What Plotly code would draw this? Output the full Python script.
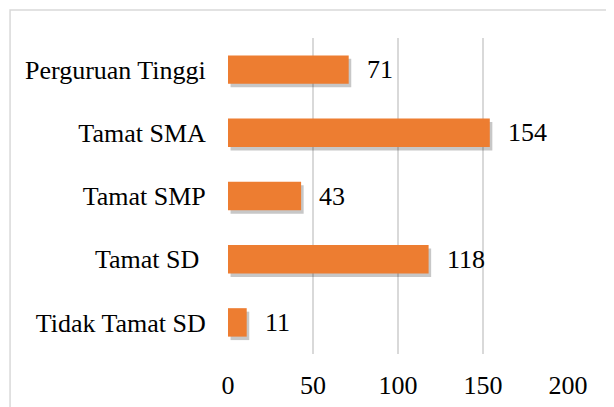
import plotly.graph_objects as go

categories = ["Tidak Tamat SD", "Tamat SD ", "Tamat SMP", "Tamat SMA", "Perguruan Tinggi"]
values = [11, 118, 43, 154, 71]
tick_vals = [0, 50, 100, 150, 200]

FONT = "Liberation Serif"
FS = 26
BAR_W = 0.45

fig = go.Figure()
# soft drop shadow
fig.add_trace(go.Bar(
    y=categories, x=values, base=1.5, orientation="h",
    width=BAR_W, offset=-BAR_W / 2 - 0.055,
    marker=dict(color="rgba(0,0,0,0.22)", line=dict(width=0)),
    hoverinfo="skip", showlegend=False,
))
fig.add_trace(go.Bar(
    y=categories, x=values, orientation="h",
    width=BAR_W, offset=-BAR_W / 2,
    marker=dict(color="#ED7D31", line=dict(width=0)),
    showlegend=False,
))

for c, v in zip(categories, values):
    fig.add_annotation(x=v, y=c, text=str(v), showarrow=False,
                       xanchor="left", xshift=16,
                       font=dict(family=FONT, size=FS, color="#000000"))

# chart border
fig.add_shape(type="rect", xref="paper", yref="paper",
              x0=-0.641, x1=1.3, y0=-0.3, y1=1.0886,
              line=dict(color="#D9D9D9", width=1.5), fillcolor="rgba(0,0,0,0)", layer="below")

fig.update_layout(
    width=614, height=407,
    margin=dict(l=220, r=54, t=30, b=61),
    paper_bgcolor="white", plot_bgcolor="white",
    barmode="overlay",
    font=dict(family=FONT, size=FS, color="#000000"),
    xaxis=dict(range=[0, 200], tickvals=tick_vals, showgrid=True, automargin=False,
               gridcolor="#D9D9D9", gridwidth=1.5, zeroline=False,
               showline=False, ticks="outside", ticklen=8, tickcolor="rgba(0,0,0,0)",
               tickfont=dict(family=FONT, size=FS, color="#000000")),
    yaxis=dict(categoryorder="array", categoryarray=categories, automargin=False,
               showgrid=False, zeroline=False, showline=False,
               ticks="outside", ticklen=16, tickcolor="rgba(0,0,0,0)",
               tickfont=dict(family=FONT, size=FS, color="#000000")),
)

fig.write_html("out.html")
